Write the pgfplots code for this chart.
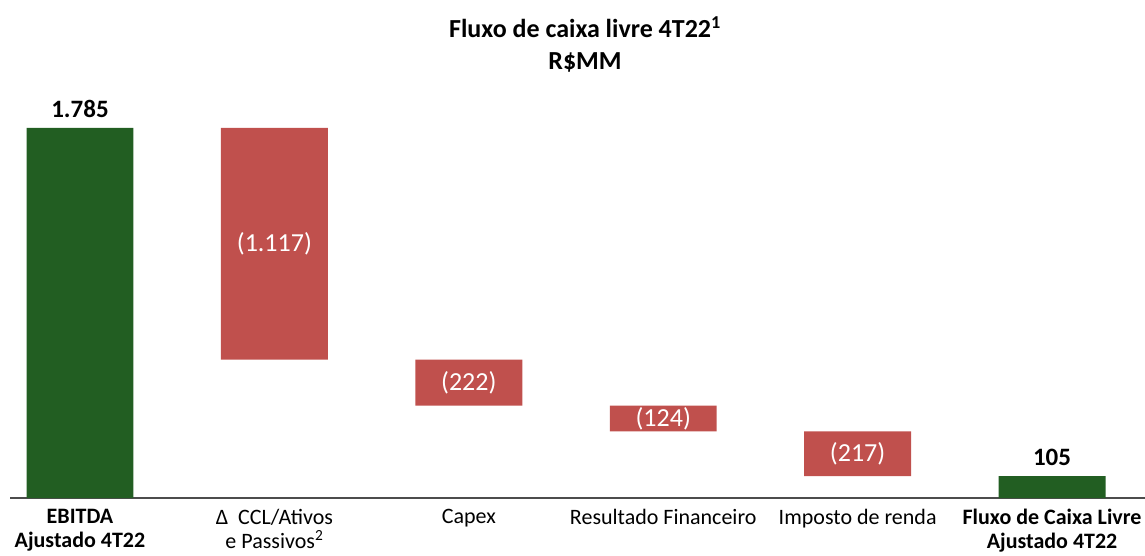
\documentclass[border=0pt]{standalone}
\usepackage{pgfplots}
\pgfplotsset{compat=1.18}
\usepackage{fontspec}
\setmainfont{Carlito}
\definecolor{wgreen}{HTML}{225E22}
\definecolor{wred}{HTML}{C0504D}
\begin{document}
\begin{tikzpicture}
\useasboundingbox (-10pt,-57pt) rectangle (1135pt,498pt);
\pgfplotsset{wf/.style={
  width=1135pt, height=498pt, scale only axis,
  xmin=-0.36, xmax=5.478, ymin=0, ymax=2402.5,
}}
\begin{axis}[wf,
  axis y line=none, axis x line=bottom,
  x axis line style={-, draw=black!70, line width=1.6pt},
  ytick=\empty,
  xtick={0,1,2,3,4,5},
  major tick length=0pt,
  xticklabels={{\bfseries EBITDA\\\bfseries Ajustado 4T22},
    {Δ\ \ CCL/Ativos\\e Passivos\textsuperscript{2}},
    {Capex},
    {Resultado Financeiro},
    {Imposto de renda},
    {\bfseries Fluxo de Caixa Livre\\\bfseries Ajustado 4T22}},
  xticklabel style={align=center, anchor=north, yshift=-8pt,
    font=\fontsize{22}{23.5}\selectfont, text=black},
  ybar stacked, bar width=0.55,
]
\addplot[fill=none, draw=none] coordinates {(0,0) (1,668) (2,446) (3,322) (4,105) (5,0)};
\addplot[fill=wgreen, draw=none] coordinates {(0,1785) (1,0) (2,0) (3,0) (4,0) (5,105)};
\addplot[fill=wred, draw=none] coordinates {(0,0) (1,1117) (2,222) (3,124) (4,217) (5,0)};
\end{axis}
\begin{axis}[wf, hide axis]
\addplot[only marks, mark=none, nodes near coords, point meta=explicit symbolic,
  every node near coord/.append style={anchor=south, inner sep=0pt, yshift=10pt,
    font=\bfseries\fontsize{25}{28}\selectfont, text=black}]
  table[meta=label] {
x y label
0 1785 1.785
5 105 105
};
\addplot[only marks, mark=none, nodes near coords, point meta=explicit symbolic,
  every node near coord/.append style={anchor=center, inner sep=0pt,
    font=\fontsize{26}{28}\selectfont, text=white}]
  table[meta=label] {
x y label
1 1226.5 (1.117)
2 557 (222)
3 384 (124)
4 213.5 (217)
};
\end{axis}
\node[font=\bfseries\fontsize{26}{32}\selectfont, align=center] at (575pt,454pt)
  {Fluxo de caixa livre 4T22\textsuperscript{1}\\R\$MM};
\end{tikzpicture}
\end{document}
